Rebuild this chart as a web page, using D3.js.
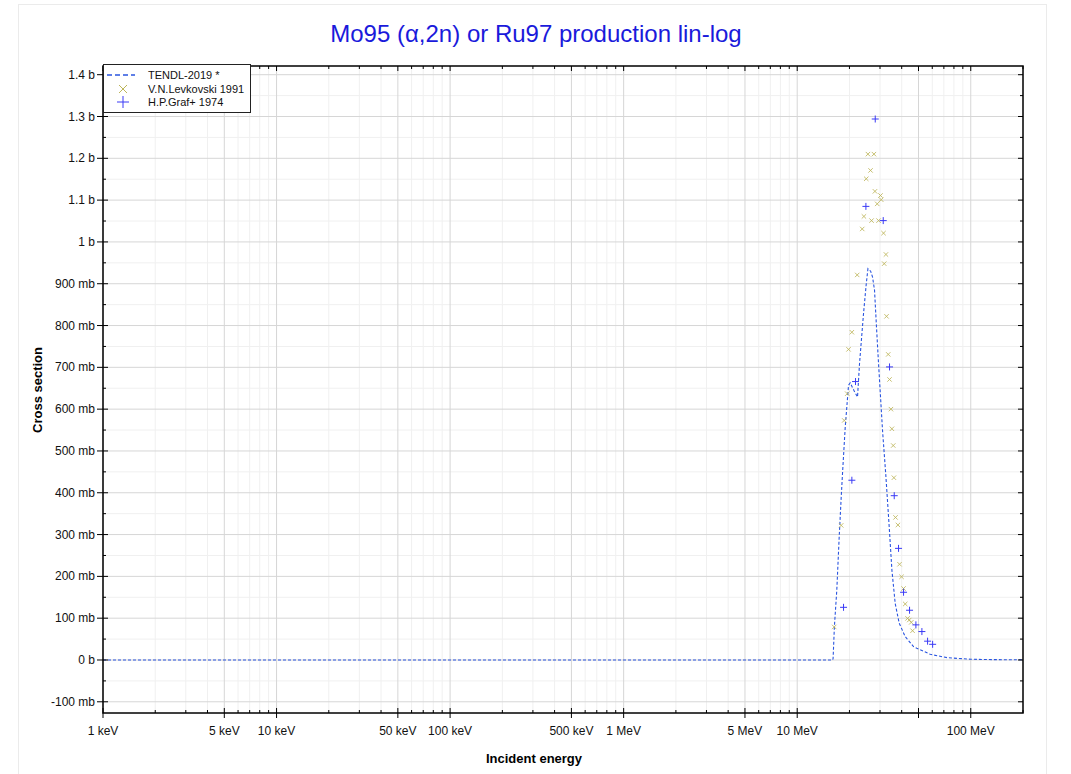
<!DOCTYPE html>
<html><head><meta charset="utf-8">
<script src="https://cdn.jsdelivr.net/npm/d3@7"></script>
<style>
body{margin:0;background:#fff;}
text{font-family:"Liberation Sans",Arial,sans-serif;}
</style></head>
<body><svg id="c" width="1071" height="774"></svg>
<script>
// ---- data (energies in MeV, cross sections in barns) ----
const tendlE = [0.001, 16.0, 16.1, 16.38, 16.91, 17.46, 17.93, 18.24, 18.91, 19.76, 20.2, 21.2, 22.26, 22.86, 24.1, 25.0, 25.56, 26.5, 27.2, 27.9, 28.6, 29.42, 31.02, 32.45, 33.9, 35.13, 36.7, 38.7, 41.9, 46.8, 48.9, 58.4, 72.9, 100, 140, 200];
const tendlXS = [0, 0, 0.004, 0.080, 0.167, 0.295, 0.390, 0.446, 0.557, 0.657, 0.663, 0.645, 0.629, 0.709, 0.828, 0.90, 0.936, 0.93, 0.915, 0.884, 0.80, 0.709, 0.549, 0.438, 0.318, 0.215, 0.135, 0.088, 0.056, 0.032, 0.028, 0.0136, 0.0056, 0.0017, 0.0008, 0.0004];

const levkE = [16.34, 17.93, 18.66, 19.42, 19.76, 20.65, 22.17, 23.69, 24.23, 24.99, 25.56, 26.46, 27.68, 26.81, 28.05, 28.91, 29.42, 30.2, 30.48, 31.43, 32.45, 31.72, 32.71, 33.46, 34.04, 34.68, 35.13, 35.75, 36.07, 36.85, 38.05, 38.87, 39.92, 41.0, 41.93, 43.23, 44.22, 45.4, 46.2];
const levkXS = [0.079, 0.322, 0.573, 0.637, 0.743, 0.784, 0.921, 1.031, 1.061, 1.151, 1.210, 1.171, 1.210, 1.051, 1.121, 1.091, 1.051, 1.111, 1.101, 1.021, 0.970, 0.948, 0.822, 0.731, 0.671, 0.600, 0.553, 0.513, 0.436, 0.341, 0.323, 0.229, 0.199, 0.171, 0.134, 0.0995, 0.0956, 0.090, 0.070];

const grafE = [18.49, 20.65, 21.68, 24.88, 28.16, 31.31, 34.04, 36.23, 38.36, 41.0, 44.4, 48.3, 52.3, 56.4, 60.3];
const grafXS = [0.126, 0.430, 0.666, 1.085, 1.294, 1.051, 0.701, 0.393, 0.267, 0.162, 0.119, 0.084, 0.068, 0.045, 0.0375];

const yTickVals = [-0.1, 0, 0.1, 0.2, 0.3, 0.4, 0.5, 0.6, 0.7, 0.8, 0.9, 1.0, 1.1, 1.2, 1.3, 1.4];
const yTickLabels = ["-100 mb", "0 b", "100 mb", "200 mb", "300 mb", "400 mb", "500 mb", "600 mb", "700 mb", "800 mb", "900 mb", "1 b", "1.1 b", "1.2 b", "1.3 b", "1.4 b"];
const xTickVals = [0.001, 0.005, 0.01, 0.05, 0.1, 0.5, 1, 5, 10, 100];
const xTickLabels = ["1 keV", "5 keV", "10 keV", "50 keV", "100 keV", "500 keV", "1 MeV", "5 MeV", "10 MeV", "100 MeV"];
const legendLabels = ["TENDL-2019 *", "V.N.Levkovski 1991", "H.P.Graf+ 1974"];
const titleText = "Mo95 (\u03b1,2n) or Ru97 production lin-log";

// ---- layout ----
const L = 103, R = 1023, T = 66, B = 713;
const svg = d3.select("#c");
const x = d3.scaleLog().domain([0.001, 200]).range([L, R]);
const y = d3.scaleLinear().domain([-0.1268, 1.4208]).range([B, T]);

svg.append("rect").attr("x", 18.5).attr("y", 4.5).attr("width", 1028).attr("height", 790)
  .attr("fill", "#fff").attr("stroke", "#ebebeb");

svg.append("text").attr("x", 536).attr("y", 42).attr("text-anchor", "middle")
  .attr("font-size", 24).attr("fill", "#1a1adb").text(titleText);

// minor/major x values
const xMinor = [], xMajor = [];
for (let d = -3; d <= 2; d++) {
  for (let m = 1; m <= 9; m++) {
    const v = m * Math.pow(10, d);
    if (v < 0.001 || v > 200) continue;
    if (m === 1 || m === 5) xMajor.push(v); else xMinor.push(v);
  }
}
const yMinor = d3.range(-0.1, 1.45, 0.1).map(v => v + 0.05).filter(v => v < 1.42);
const g = svg.append("g");
// grid
g.selectAll(".gxm").data(xMinor).join("line").attr("x1", d => x(d)).attr("x2", d => x(d))
  .attr("y1", T).attr("y2", B).attr("stroke", "#f0f0f0").attr("stroke-width", 1);
g.selectAll(".gym").data(yMinor).join("line").attr("y1", d => y(d)).attr("y2", d => y(d))
  .attr("x1", L).attr("x2", R).attr("stroke", "#f0f0f0").attr("stroke-width", 1);
g.selectAll(".gxM").data(xMajor).join("line").attr("x1", d => x(d)).attr("x2", d => x(d))
  .attr("y1", T).attr("y2", B).attr("stroke", "#d6d6d6").attr("stroke-width", 1);
g.selectAll(".gyM").data(yTickVals).join("line").attr("y1", d => y(d)).attr("y2", d => y(d))
  .attr("x1", L).attr("x2", R).attr("stroke", "#d6d6d6").attr("stroke-width", 1);

// data
const line = d3.line().x((d, i) => x(tendlE[i])).y(d => y(d));
svg.append("path").attr("d", line(tendlXS)).attr("fill", "none").attr("stroke", "#2a55e0")
  .attr("stroke-width", 1.1).attr("stroke-dasharray", "3,2");

const xs = 2.2;
svg.append("g").selectAll("path").data(levkXS).join("path")
  .attr("d", (d, i) => { const cx = x(levkE[i]), cy = y(d);
    return `M${cx-xs},${cy-xs}L${cx+xs},${cy+xs}M${cx-xs},${cy+xs}L${cx+xs},${cy-xs}`; })
  .attr("stroke", "#bdb55a").attr("stroke-width", 1).attr("fill", "none").attr("opacity", 0.85);
const ps = 3.5;
svg.append("g").selectAll("path").data(grafXS).join("path")
  .attr("d", (d, i) => { const cx = x(grafE[i]), cy = y(d);
    return `M${cx-ps},${cy}L${cx+ps},${cy}M${cx},${cy-ps}L${cx},${cy+ps}`; })
  .attr("stroke", "#3a3af5").attr("stroke-width", 1).attr("fill", "none");

// frame
svg.append("rect").attr("x", L).attr("y", T).attr("width", R - L).attr("height", B - T)
  .attr("fill", "none").attr("stroke", "#000").attr("stroke-width", 1.5);

// axes
const ax = svg.append("g").attr("stroke", "#000");
yTickVals.forEach(v => { ax.append("line").attr("x1", L - 6).attr("x2", L + 5).attr("y1", y(v)).attr("y2", y(v));
  ax.append("line").attr("x1", R - 5).attr("x2", R).attr("y1", y(v)).attr("y2", y(v)); });
yMinor.forEach(v => { ax.append("line").attr("x1", L).attr("x2", L + 3).attr("y1", y(v)).attr("y2", y(v));
  ax.append("line").attr("x1", R - 3).attr("x2", R).attr("y1", y(v)).attr("y2", y(v)); });
xMajor.forEach(v => { ax.append("line").attr("x1", x(v)).attr("x2", x(v)).attr("y1", B - 5).attr("y2", B + 5);
  ax.append("line").attr("x1", x(v)).attr("x2", x(v)).attr("y1", T).attr("y2", T + 5); });
xMinor.forEach(v => { ax.append("line").attr("x1", x(v)).attr("x2", x(v)).attr("y1", B - 3).attr("y2", B);
  ax.append("line").attr("x1", x(v)).attr("x2", x(v)).attr("y1", T).attr("y2", T + 3); });

svg.append("g").selectAll("text").data(yTickVals).join("text")
  .attr("x", L - 8).attr("y", d => y(d) + 4).attr("text-anchor", "end").attr("font-size", 12)
  .attr("fill", "#111").text((d, i) => yTickLabels[i]);
svg.append("g").selectAll("text").data(xTickVals).join("text")
  .attr("x", d => x(d)).attr("y", 735).attr("text-anchor", "middle").attr("font-size", 12)
  .attr("fill", "#111").text((d, i) => xTickLabels[i]);

svg.append("text").attr("x", 534).attr("y", 763).attr("text-anchor", "middle")
  .attr("font-size", 13).attr("font-weight", "bold").text("Incident energy");
svg.append("text").attr("transform", "translate(42,390) rotate(-90)").attr("text-anchor", "middle")
  .attr("font-size", 13).attr("font-weight", "bold").text("Cross section");

// legend
const lg = svg.append("g");
lg.append("rect").attr("x", 103.5).attr("y", 64.5).attr("width", 147).attr("height", 48)
  .attr("fill", "#fff").attr("stroke", "#222").attr("stroke-width", 1);
lg.append("line").attr("x1", 107).attr("x2", 135).attr("y1", 75).attr("y2", 75)
  .attr("stroke", "#2a55e0").attr("stroke-width", 1.5).attr("stroke-dasharray", "5,3");
const mx = 123, my1 = 89, my2 = 102;
lg.append("path").attr("d", `M${mx-4},${my1-4}L${mx+4},${my1+4}M${mx-4},${my1+4}L${mx+4},${my1-4}`)
  .attr("stroke", "#bdb55a").attr("stroke-width", 1);
lg.append("path").attr("d", `M${mx-6},${my2}L${mx+6},${my2}M${mx},${my2-6}L${mx},${my2+6}`)
  .attr("stroke", "#3a3af5").attr("stroke-width", 1);
lg.selectAll("text.l").data(legendLabels).join("text").attr("x", 148)
  .attr("y", (d, i) => [79, 93, 106][i]).attr("font-size", 11).attr("fill", "#111").text(d => d);
</script></body></html>
